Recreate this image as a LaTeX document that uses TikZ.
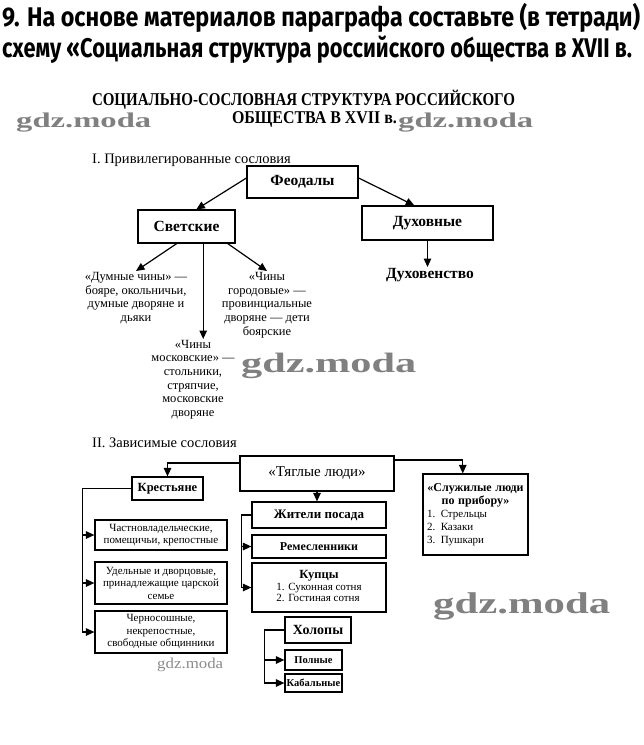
\documentclass[tikz,border=0pt]{standalone}
\usepackage{fontspec}
\usepackage{graphicx}
\setmainfont{Liberation Serif}
\newfontfamily\hdrfont{Fira Sans}
\usetikzlibrary{arrows.meta,calc}
\begin{document}
\begin{tikzpicture}[x=1pt,y=-1pt,
  box/.style={draw, line width=1.2pt, inner sep=0pt, align=center},
  arr/.style={line width=1.2pt, -{Triangle[length=8.5pt,width=7.5pt]}},
  txt/.style={inner sep=1pt, align=center},
  wm/.style={inner sep=0pt, text=black!50, font=\bfseries}
]
\fill[white] (0,0) rectangle (644,745);
\useasboundingbox (0,0) rectangle (644,745);

% header
\node[anchor=base west, inner sep=0pt] (h1) at (2,26) {\resizebox{638pt}{\height}{\hdrfont\bfseries\fontsize{27}{29}\selectfont 9. На основе материалов параграфа составьте (в тетради)}};
\node[anchor=base west, inner sep=0pt] (h2) at (2,57) {\resizebox{630pt}{\height}{\hdrfont\bfseries\fontsize{27}{29}\selectfont схему «Социальная структура российского общества в XVII в.}};

% title
\node[anchor=base, inner sep=0pt] (t1) at (303.5,105) {\resizebox{423pt}{\height}{\bfseries\fontsize{18}{18}\selectfont СОЦИАЛЬНО-СОСЛОВНАЯ СТРУКТУРА РОССИЙСКОГО}};
\node[anchor=base, inner sep=0pt] (t2) at (314.5,123) {\resizebox{165pt}{\height}{\bfseries\fontsize{18}{18}\selectfont ОБЩЕСТВА В XVII в.}};

% watermarks
\node[wm, anchor=base west] (w1) at (16,127) {\resizebox{135pt}{\height}{\fontsize{21}{21}\selectfont gdz.moda}};
\node[wm, anchor=base west] (w2) at (398,127) {\resizebox{135pt}{\height}{\fontsize{21}{21}\selectfont gdz.moda}};
\node[wm, anchor=base west] (w3) at (241,372) {\resizebox{175pt}{\height}{\fontsize{28}{28}\selectfont gdz.moda}};
\node[wm, anchor=base west] (w4) at (433,613) {\resizebox{177pt}{\height}{\fontsize{30}{30}\selectfont gdz.moda}};
\node[inner sep=0pt, text=black!45, anchor=base west] (w5) at (157,668) {\resizebox{66pt}{\height}{\fontsize{15}{15}\selectfont gdz.moda}};

% section I
\node[anchor=base west, inner sep=0pt, font=\fontsize{14.5}{16}\selectfont] (sec1) at (92,163) {I. Привилегированные сословия};

\node[box, minimum width=111pt, minimum height=32pt, font=\fontsize{15.5}{17}\selectfont\bfseries] (feod) at (302.5,182) {Феодалы};
\node[box, minimum width=97pt, minimum height=33pt, font=\fontsize{15.5}{17}\selectfont\bfseries] (svet) at (186.5,226.5) {Светские};
\node[box, minimum width=131pt, minimum height=34pt, font=\fontsize{15.5}{17}\selectfont\bfseries] (duh) at (427.5,223) {Духовные};
\node[txt, anchor=north, font=\fontsize{15.5}{17}\selectfont\bfseries] (dhv) at (430,267) {Духовенство};

\node[txt, anchor=north, font=\fontsize{12.5}{13.8}\selectfont] (dum) at (136,271) {«Думные чины» —\\бояре, окольничьи,\\думные дворяне и\\дьяки};
\node[txt, anchor=north, font=\fontsize{12.5}{13.8}\selectfont] (gor) at (267,271) {«Чины\\городовые» —\\провинциальные\\дворяне — дети\\боярские};
\node[txt, anchor=north, font=\fontsize{12.5}{13.6}\selectfont] (mosk) at (193,339) {«Чины\\московские» —\\стольники,\\стряпчие,\\московские\\дворяне};

\draw[arr] ([yshift=4pt]feod.west) -- ($(svet.north west)!0.6!(svet.north east)$);
\draw[arr] ([yshift=4pt]feod.east) -- ($(duh.north west)!0.4!(duh.north east)$);
\draw[arr] (duh.south) -- (duh.south |- dhv.north);
\draw[arr] ($(svet.south west)!0.4!(svet.south east)$) -- (dum.north);
\coordinate (sm) at ($(svet.south west)!0.67!(svet.south east)$);
\draw[arr] (sm) -- (sm |- mosk.north);
\draw[arr] ($(svet.south west)!0.92!(svet.south east)$) -- (gor.north);

% section II
\node[anchor=base west, inner sep=0pt, font=\fontsize{14.5}{16}\selectfont] (sec2) at (92,447) {II. Зависимые сословия};

\node[box, minimum width=154pt, minimum height=35pt, font=\fontsize{15}{17}\selectfont] (tyag) at (317,473.5) {«Тяглые люди»};
\node[box, minimum width=71pt, minimum height=23pt, font=\fontsize{12.5}{14}\selectfont\bfseries] (krest) at (167.5,488.5) {Крестьяне};
\node[box, minimum width=134pt, minimum height=26pt, font=\fontsize{13}{15}\selectfont\bfseries] (zhit) at (319,515) {Жители посада};
\node[box, minimum width=134pt, minimum height=23pt, font=\fontsize{12}{14}\selectfont\bfseries] (rem) at (319,546.5) {Ремесленники};
\node[box, minimum width=134pt, minimum height=49pt, font=\fontsize{11}{12.5}\selectfont] (kup) at (319,587.5) {{\fontsize{12.5}{13}\selectfont\bfseries Купцы}\\\begin{tabular}{@{}l@{}}1. Суконная сотня\\[-1.5pt]2. Гостиная сотня\end{tabular}};
\node[box, minimum width=66pt, minimum height=26pt, font=\fontsize{14}{16}\selectfont\bfseries] (kholop) at (318,630) {Холопы};
\node[box, minimum width=57pt, minimum height=20pt, font=\fontsize{10.5}{12}\selectfont\bfseries] (poln) at (313.5,660) {Полные};
\node[box, minimum width=57pt, minimum height=18pt, font=\fontsize{10.5}{12}\selectfont\bfseries] (kab) at (313.5,683) {Кабальные};

\node[box, minimum width=105pt, minimum height=81pt, text width=97pt, align=left, font=\fontsize{11}{13}\selectfont] (sluzh) at (475.5,514.5) {\makebox[97pt]{\bfseries\fontsize{12}{13}\selectfont «Служилые люди}\\\makebox[97pt]{\bfseries\fontsize{12}{13}\selectfont по прибору»}\\1. Стрельцы\\2. Казаки\\3. Пушкари};

\node[box, minimum width=132pt, minimum height=30pt, font=\fontsize{11}{12.5}\selectfont] (lb1) at (161,535) {Частновладельческие,\\помещичьи, крепостные};
\node[box, minimum width=132pt, minimum height=42pt, font=\fontsize{11}{12.5}\selectfont] (lb2) at (161,583) {Удельные и дворцовые,\\принадлежащие царской\\семье};
\node[box, minimum width=132pt, minimum height=42pt, font=\fontsize{11}{12.5}\selectfont] (lb3) at (161,632) {Черносошные,\\некрепостные,\\свободные общинники};

\draw[arr] ([yshift=10.5pt]tyag.west) -| (krest.north);
\draw[arr] ([yshift=13.5pt]tyag.east) -| ($(sluzh.north west)!0.38!(sluzh.north east)$);
\draw[arr] (tyag.south) -- (tyag.south |- zhit.north);

\draw[arr] (krest.west) -| ([xshift=-12pt]lb3.west) -- (lb3.west);
\draw[arr] ([xshift=-12pt]lb1.west) -- (lb1.west);
\draw[arr] ([xshift=-12pt]lb2.west) -- (lb2.west);

\draw[arr] (zhit.west) -| ([xshift=-10pt]kup.west) -- (kup.west);
\draw[arr] ([xshift=-10pt]rem.west) -- (rem.west);

\draw[arr] (kholop.west) -| ([xshift=-20pt]kab.west) -- (kab.west);
\draw[arr] ([xshift=-20pt]poln.west) -- (poln.west);
\end{tikzpicture}
\end{document}
